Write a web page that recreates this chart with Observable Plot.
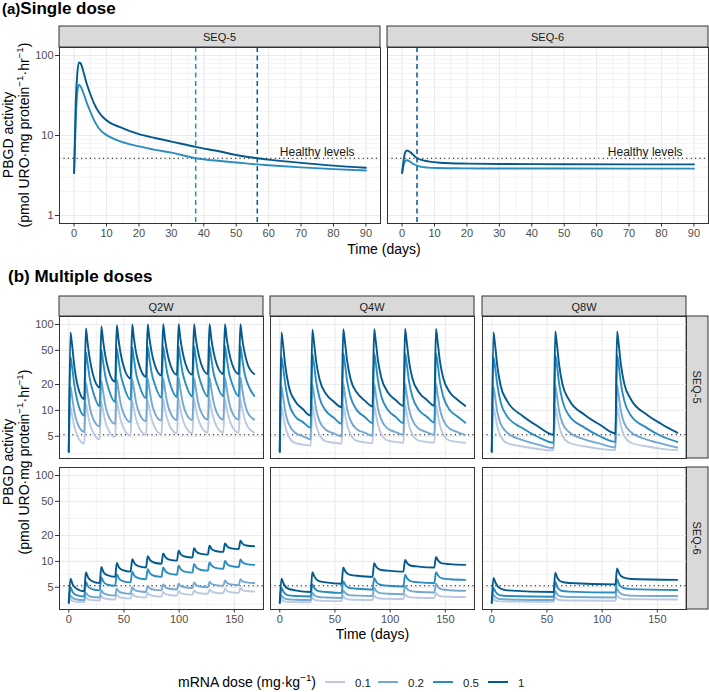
<!DOCTYPE html>
<html><head><meta charset="utf-8">
<script src="https://cdn.jsdelivr.net/npm/d3@7"></script>
<script src="https://cdn.jsdelivr.net/npm/@observablehq/plot@0.6"></script>
<style>
body{margin:0;background:#fff;}
#root{position:relative;width:709px;height:692px;overflow:hidden;background:#fff;}
</style></head><body><div id="root"></div><script>
// ---------- categories ----------
const doses = ["0.1", "0.2", "0.5", "1"];
const doseColors = ["#bdc9e1", "#74a9cf", "#2b8cbe", "#045a8d"];
const seqLabels = ["SEQ-5", "SEQ-6"];
const regimens = ["Q2W", "Q4W", "Q8W"];
const dosingInterval = [14, 28, 56];
const healthyLevel = 5.2;
const startLevel = 3.3;

// ---------- (a) single dose ----------
const sd5Time = [0, 0.5, 1, 1.5, 2, 3, 4, 5, 6, 7.5, 9, 11, 14, 17, 20, 25, 30, 37.5, 45, 50, 56.5, 60, 70, 80, 90];
const sd5Dose1 = [3.4, 25, 60, 82, 80, 60, 43, 33, 26, 20, 16.8, 14.5, 12.8, 11.4, 10.4, 9.3, 8.4, 7.2, 6.3, 5.7, 5.2, 5.0, 4.55, 4.2, 3.95];
const sd5Dose05 = [3.4, 15, 35, 43, 41, 33, 25, 20, 16, 12.5, 10.8, 9.6, 8.5, 7.8, 7.3, 6.6, 6.1, 5.2, 4.8, 4.6, 4.35, 4.25, 4.0, 3.8, 3.65];
const sd6Time = [0, 0.5, 1, 1.5, 2.5, 3.5, 4.6, 6, 8, 11, 15, 20, 30, 50, 70, 90];
const sd6Dose1 = [3.4, 5.0, 6.2, 6.5, 6.2, 5.7, 5.2, 4.95, 4.75, 4.6, 4.5, 4.45, 4.4, 4.38, 4.35, 4.35];
const sd6Dose05 = [3.4, 4.3, 4.8, 4.9, 4.7, 4.4, 4.2, 4.05, 3.97, 3.92, 3.9, 3.88, 3.87, 3.86, 3.85, 3.85];
const sd5Threshold = [37.5, 56.5];      // day the curve falls below the healthy level: dose 0.5, dose 1
const sd5ThresholdDose = ["0.5", "1"];
const sd6Threshold = [4.6];
const sd6ThresholdDose = ["1"];
const healthyLabel = "Healthy levels";
const healthyLabelDay = 86.5;

// ---------- (b) multiple doses: sampling days after each dose ----------
const offs5Q2W = [1.5, 3, 5, 8, 14];
const offs5Q4W = [1.5, 3, 5, 8, 14, 21, 28];
const offs5Q8W = [1.5, 3, 5, 8, 14, 28, 42, 56];
const offs6Q2W = [1.5, 3.5, 7, 14];
const offs6Q4W = [1.5, 3.5, 7, 14, 28];
const offs6Q8W = [1.5, 3.5, 7, 14, 56];

// SEQ-5, values per dosing cycle
const s5q2w_01 = [[11,8.8,6.5,5.0,4.1],[12,9.5,7.1,5.6,4.6],[12.5,10,7.5,5.9,4.9],[13,10.3,7.8,6.1,5.1],[13,10.4,7.9,6.2,5.2],[13,10.5,8.0,6.3,5.3],[13.5,10.6,8.1,6.4,5.4],[13.5,10.6,8.1,6.4,5.4],[13.5,10.7,8.2,6.5,5.5],[13.5,10.7,8.2,6.5,5.5],[13.5,10.7,8.2,6.5,5.5],[13.5,10.7,8.2,6.5,5.5]];
const s5q2w_02 = [[19,14.5,9.6,7.0,5.6],[21,16,11,8.0,6.5],[22,17,11.6,8.6,7.0],[23,17.5,12,9.0,7.3],[23,17.8,12.3,9.2,7.5],[23.5,18,12.5,9.3,7.6],[23.5,18,12.6,9.4,7.7],[24,18.2,12.7,9.4,7.7],[24,18.3,12.7,9.5,7.8],[24,18.3,12.8,9.5,7.8],[24,18.3,12.8,9.5,7.8],[24,18.3,12.8,9.5,7.8]];
const s5q2w_05 = [[42,32,20,12.5,8.7],[48,36,23.5,16.5,11.2],[51,38,25.5,18,12.5],[53,39.5,26.5,19,13.3],[54,40,27,19.5,13.8],[55,41,27.5,20,14],[55,41,28,20,14.3],[55,41,28,20.2,14.5],[56,41.5,28,20.3,14.5],[56,41.5,28,20.4,14.6],[56,41.5,28,20.4,14.6],[56,41.5,28,20.5,14.7]];
const s5q2w_1 = [[81,58,33,19.5,13.5],[90,62,40,26,18.5],[95,66,44,29.5,21.5],[98,68,46,31.5,23.5],[100,69,47,33,24.5],[100,70,48,33.5,25.5],[101,70,48.5,34,26],[101,70,48.5,34,26],[101,70,49,34.5,26.5],[101,70,49,34.5,26.5],[101,70,49,34.5,26.5],[101,70,49,34.5,26.5]];

const s5q4w_01 = [[11,8.8,6.5,5.0,4.15,4.0,3.9],[11.5,9.1,6.7,5.2,4.35,4.2,4.1],[11.5,9.2,6.8,5.3,4.4,4.25,4.15],[11.5,9.2,6.8,5.3,4.45,4.3,4.2],[11.5,9.2,6.8,5.3,4.45,4.3,4.2],[11.5,9.2,6.8,5.3,4.45,4.3,4.2]];
const s5q4w_02 = [[19,14.5,9.6,7.0,5.5,5.0,4.6],[20,15.3,10.2,7.5,5.9,5.4,5.0],[20.5,15.5,10.4,7.7,6.0,5.5,5.1],[20.5,15.5,10.5,7.8,6.1,5.6,5.2],[20.5,15.5,10.5,7.8,6.1,5.6,5.2],[20.5,15.5,10.5,7.8,6.1,5.6,5.2]];
const s5q4w_05 = [[42,32,20,12.5,8.5,7.3,6.3],[45,34.5,21.5,14,9.8,8.2,7.0],[46,35,22,14.5,10,8.4,7.1],[46,35,22,14.6,10.1,8.4,7.1],[46,35,22,14.6,10.1,8.5,7.2],[46,35,22,14.6,10.1,8.5,7.2]];
const s5q4w_1 = [[81,58,33,19.5,12.8,10.3,8.7],[87,62,37,23,15.5,12.6,10.9],[88,63,38,23.5,16,13,11.1],[88,63,38,24,16.2,13.2,11.3],[89,63,38,24,16.3,13.3,11.3],[89,63,38,24,16.3,13.3,11.3]];

const s5q8w_01 = [[11,8.8,6.5,5.0,4.15,3.8,3.55,3.42],[11,8.9,6.6,5.05,4.2,3.82,3.57,3.45],[11,8.9,6.6,5.05,4.2,3.82,3.57,3.45]];
const s5q8w_02 = [[19,14.5,9.6,7.0,5.5,4.5,4.0,3.65],[19.5,14.8,9.8,7.1,5.6,4.6,4.1,3.7],[19.5,14.8,9.8,7.1,5.6,4.6,4.1,3.7]];
const s5q8w_05 = [[42,32,20,12.5,8.5,6.2,4.9,4.2],[44,33.5,20.5,13,8.7,6.3,5.0,4.3],[44,33.5,20.5,13,8.7,6.3,5.0,4.3]];
const s5q8w_1 = [[81,58,33,19.5,12.8,8.6,6.5,5.2],[83,59,34,20.3,13.3,8.9,6.8,5.4],[83,59,34,20.5,13.5,9.0,6.9,5.5]];

// SEQ-6, values per dosing cycle
const s6q2w_01 = [[3.6,3.45,3.38,3.35],[3.8,3.62,3.54,3.5],[3.95,3.75,3.65,3.6],[4.1,3.87,3.76,3.7],[4.2,3.97,3.86,3.8],[4.3,4.07,3.96,3.9],[4.4,4.17,4.06,4.0],[4.5,4.27,4.16,4.1],[4.6,4.37,4.26,4.2],[4.7,4.45,4.32,4.25],[4.8,4.52,4.38,4.3],[4.9,4.65,4.52,4.45]];
const s6q2w_02 = [[4.0,3.75,3.6,3.55],[4.3,4.0,3.85,3.8],[4.6,4.25,4.1,4.0],[4.8,4.45,4.3,4.2],[5.0,4.65,4.5,4.4],[5.2,4.85,4.7,4.6],[5.4,5.0,4.8,4.7],[5.5,5.15,5.0,4.9],[5.7,5.3,5.1,5.0],[5.8,5.45,5.3,5.2],[6.0,5.6,5.4,5.3],[6.2,5.85,5.7,5.6]];
const s6q2w_05 = [[5.0,4.4,4.05,3.9],[5.8,5.1,4.75,4.6],[6.5,5.8,5.35,5.2],[7.1,6.3,5.9,5.7],[7.6,6.8,6.4,6.2],[8.1,7.3,6.8,6.6],[8.5,7.7,7.2,7.0],[8.9,8.1,7.6,7.4],[9.3,8.5,8.0,7.8],[9.7,8.9,8.4,8.2],[10.1,9.3,8.8,8.6],[10.5,9.7,9.3,9.1]];
const s6q2w_1 = [[6.3,5.4,4.8,4.5],[7.5,6.5,5.9,5.6],[8.6,7.5,6.9,6.6],[9.6,8.5,7.9,7.6],[10.6,9.5,8.8,8.5],[11.5,10.4,9.7,9.4],[12.4,11.2,10.5,10.2],[13.3,12.1,11.4,11.1],[14.2,13.0,12.3,12.0],[15.2,13.9,13.2,12.9],[16.2,14.9,14.2,13.9],[17.4,16.0,15.3,15.0]];

const s6q4w_01 = [[3.6,3.45,3.38,3.36,3.35],[3.75,3.57,3.5,3.47,3.45],[3.9,3.68,3.6,3.57,3.55],[4.0,3.78,3.7,3.67,3.65],[4.15,3.9,3.81,3.77,3.75],[4.3,4.02,3.92,3.88,3.85]];
const s6q4w_02 = [[4.0,3.75,3.62,3.58,3.55],[4.3,4.0,3.85,3.8,3.75],[4.6,4.25,4.05,4.0,3.95],[4.9,4.5,4.27,4.2,4.15],[5.2,4.75,4.5,4.4,4.35],[5.5,5.0,4.72,4.62,4.55]];
const s6q4w_05 = [[4.9,4.4,4.05,3.95,3.9],[5.4,4.85,4.5,4.4,4.3],[5.9,5.3,4.9,4.8,4.7],[6.4,5.75,5.35,5.2,5.1],[7.0,6.3,5.85,5.7,5.6],[7.5,6.8,6.35,6.2,6.1]];
const s6q4w_1 = [[6.3,5.5,4.85,4.6,4.4],[7.5,6.6,5.95,5.7,5.5],[8.5,7.6,7.0,6.8,6.6],[9.5,8.6,8.0,7.8,7.6],[10.4,9.5,8.9,8.7,8.5],[11.3,10.2,9.5,9.3,9.1]];

const s6q8w_01 = [[3.65,3.48,3.42,3.4,3.38],[3.85,3.62,3.53,3.5,3.48],[4.0,3.75,3.65,3.62,3.6]];
const s6q8w_02 = [[4.1,3.8,3.65,3.6,3.55],[4.5,4.1,3.9,3.85,3.8],[4.8,4.35,4.1,4.0,3.95]];
const s6q8w_05 = [[4.9,4.4,4.05,3.95,3.87],[5.8,5.0,4.55,4.45,4.35],[6.2,5.4,4.9,4.75,4.65]];
const s6q8w_1 = [[6.4,5.6,4.9,4.6,4.4],[7.4,6.4,5.8,5.6,5.4],[8.3,7.2,6.5,6.25,6.1]];

// ---------- axis ticks ----------
const topXTicks = [0, 10, 20, 30, 40, 50, 60, 70, 80, 90];
const topXMinor = [5, 15, 25, 35, 45, 55, 65, 75, 85];
const topYTicks = [1, 10, 100];
const topYMinor = [2, 3, 4, 5, 6, 7, 8, 9, 20, 30, 40, 50, 60, 70, 80, 90];
const botXTicks = [0, 50, 100, 150];
const botXMinor = [25, 75, 125, 175];
const botYTicks = [5, 10, 20, 50, 100];
const botYMinor = [3.16, 7.07, 14.14, 31.62, 70.71];

// ---------- build tables ----------
const FONT = '"Liberation Sans", Arial, Helvetica, sans-serif';
function single(time, vals, dose) { return time.map((t, i) => ({t, v: vals[i], dose})); }
function cyclesTable(arr, interval, offs, dose) {
  const pts = [{t: 0, v: startLevel, dose}];
  arr.forEach((c, k) => c.forEach((v, i) => pts.push({t: k * interval + offs[i], v, dose})));
  return pts;
}
const multi = {
  "SEQ-5": {
    Q2W: [s5q2w_01, s5q2w_02, s5q2w_05, s5q2w_1], Q4W: [s5q4w_01, s5q4w_02, s5q4w_05, s5q4w_1], Q8W: [s5q8w_01, s5q8w_02, s5q8w_05, s5q8w_1]
  },
  "SEQ-6": {
    Q2W: [s6q2w_01, s6q2w_02, s6q2w_05, s6q2w_1], Q4W: [s6q4w_01, s6q4w_02, s6q4w_05, s6q4w_1], Q8W: [s6q8w_01, s6q8w_02, s6q8w_05, s6q8w_1]
  }
};
const offsets = {"SEQ-5": [offs5Q2W, offs5Q4W, offs5Q8W], "SEQ-6": [offs6Q2W, offs6Q4W, offs6Q8W]};

const root = document.getElementById("root");

// ---------- overlay (titles, strips, legend) ----------
const ov = d3.select(root).append("svg").attr("width", 709).attr("height", 692)
  .style("position", "absolute").style("left", "0px").style("top", "0px")
  .attr("font-family", FONT);

function rich(sel, parts, size) {
  let up = false;
  parts.forEach(p => {
    const sup = typeof p !== "string";
    const s = sel.append("tspan").text(sup ? p.sup : p);
    if (sup) { s.attr("font-size", size * 0.7).attr("dy", -size * 0.4); up = true; }
    else if (up) { s.attr("dy", size * 0.4); up = false; }
  });
}
const ylabParts = ["(pmol URO·mg protein", {sup: "−1"}, "·hr", {sup: "−1"}, ")"];

// titles
const ta = ov.append("text").attr("x", 2).attr("y", 13.5).attr("font-weight", "bold").attr("fill", "#000");
ta.append("tspan").attr("font-size", 15).text("(a)");
ta.append("tspan").attr("font-size", 17).text("Single dose");
const tb = ov.append("text").attr("x", 8).attr("y", 282).attr("font-weight", "bold").attr("fill", "#000").attr("font-size", 17);
tb.text("(b) Multiple doses");

// strips
function strip(x, y, w, h, label, vertical) {
  ov.append("rect").attr("x", x).attr("y", y).attr("width", w).attr("height", h)
    .attr("fill", "#d9d9d9").attr("stroke", "#333333").attr("stroke-width", 1);
  const t = ov.append("text").attr("font-size", 11).attr("fill", "#1a1a1a")
    .attr("text-anchor", "middle").attr("dominant-baseline", "central").text(label);
  if (vertical) t.attr("transform", `translate(${x + w / 2},${y + h / 2}) rotate(90)`);
  else t.attr("x", x + w / 2).attr("y", y + h / 2 + 0.5);
}
strip(59, 26, 321, 21, seqLabels[0]);
strip(387, 26, 321, 21, seqLabels[1]);
const botLefts = [59, 270, 482];
const botTops = [316, 467];
regimens.forEach((r, i) => strip(botLefts[i], 296, 204, 20, r));
seqLabels.forEach((s, i) => strip(686, botTops[i], 22, 142, s, true));

// axis titles
function yTitle(cy) {
  ov.append("text").attr("font-size", 14).attr("fill", "#000").attr("text-anchor", "middle")
    .attr("transform", `translate(12.5,${cy}) rotate(-90)`).text("PBGD activity");
  const t = ov.append("text").attr("font-size", 14).attr("fill", "#000").attr("text-anchor", "middle")
    .attr("transform", `translate(28.5,${cy}) rotate(-90)`);
  rich(t, ylabParts, 14);
}
yTitle(135);
yTitle(462);
ov.append("text").attr("x", 384).attr("y", 254).attr("font-size", 14).attr("text-anchor", "middle").attr("fill", "#000").text("Time (days)");
ov.append("text").attr("x", 372.5).attr("y", 639).attr("font-size", 14).attr("text-anchor", "middle").attr("fill", "#000").text("Time (days)");

// legend
const lt = ov.append("text").attr("x", 178).attr("y", 687).attr("font-size", 14).attr("fill", "#000");
rich(lt, ["mRNA dose (mg·kg", {sup: "−1"}, ")"], 14);
const legX = [325, 378, 433, 488];
doses.forEach((d, i) => {
  ov.append("line").attr("x1", legX[i]).attr("x2", legX[i] + 20).attr("y1", 682).attr("y2", 682)
    .attr("stroke", doseColors[i]).attr("stroke-width", 2);
  ov.append("text").attr("x", legX[i] + 30).attr("y", 686.5).attr("font-size", 11.5).attr("fill", "#1a1a1a").text(d);
});

// ---------- panels ----------
function panel(o) {
  const mL = o.yAxis ? 40 : 0, mB = o.xAxis ? 24 : 0;
  const gridStyle = {stroke: "#ebebeb", strokeOpacity: 1};
  const marks = [
    Plot.gridX(o.xMinor, {...gridStyle, strokeWidth: 0.6}),
    Plot.gridY(o.yMinor, {...gridStyle, strokeWidth: 0.6}),
    Plot.gridX(o.xMajor, {...gridStyle, strokeWidth: 1.1}),
    Plot.gridY(o.yMajor, {...gridStyle, strokeWidth: 1.1}),
    ...o.marks,
    Plot.frame({stroke: "#333333", strokeWidth: 1})
  ];
  if (o.xAxis) marks.push(Plot.axisX(o.xMajor, {tickSize: 3.5, tickPadding: 2.5, tickFormat: d => String(d), fill: "#4d4d4d", stroke: "#333333", fontSize: 11, label: null}));
  if (o.yAxis) {
    // tick marks from the axis; labels as a text mark (avoids log-scale label thinning)
    marks.push(Plot.axisY(o.yMajor, {tickSize: 4, tickFormat: () => "", stroke: "#333333", label: null}));
    marks.push(Plot.text(o.yMajor, {y: d => d, text: d => String(d), frameAnchor: "left", textAnchor: "end", dx: -6, fill: "#4d4d4d", fontSize: 11}));
  }
  const xOpt = {domain: o.xDomain};
  const yOpt = {type: "log", domain: o.yDomain};
  if (!o.xAxis) xOpt.axis = null;
  if (!o.yAxis) yOpt.axis = null;
  const chart = Plot.plot({
    width: o.w + mL, height: o.h + mB,
    marginLeft: mL, marginRight: 0, marginTop: 0, marginBottom: mB,
    style: {fontFamily: FONT, fontSize: "11px", background: "transparent", overflow: "visible"},
    x: xOpt, y: yOpt,
    color: {domain: doses, range: doseColors},
    marks
  });
  chart.style.position = "absolute";
  chart.style.left = (o.left - mL) + "px";
  chart.style.top = o.top + "px";
  root.appendChild(chart);
}

const lineOpts = {x: "t", y: "v", z: "dose", stroke: "dose", strokeWidth: 1.9, curve: "monotone-x"};
const healthyRule = () => Plot.ruleY([healthyLevel], {stroke: "#000", strokeWidth: 1.1, strokeDasharray: "1.2,3.2"});

// (a) single dose panels
const topData = [
  [...single(sd5Time, sd5Dose05, "0.5"), ...single(sd5Time, sd5Dose1, "1")],
  [...single(sd6Time, sd6Dose05, "0.5"), ...single(sd6Time, sd6Dose1, "1")]
];
const topThr = [
  sd5Threshold.map((t, i) => ({t, dose: sd5ThresholdDose[i]})),
  sd6Threshold.map((t, i) => ({t, dose: sd6ThresholdDose[i]}))
];
[59, 387].forEach((left, i) => {
  panel({
    left, top: 47, w: 321, h: 176,
    xDomain: [-4.5, 94.5], yDomain: [Math.pow(10, -0.1), Math.pow(10, 2.1)],
    xMajor: topXTicks, xMinor: topXMinor, yMajor: topYTicks, yMinor: topYMinor,
    xAxis: true, yAxis: i === 0,
    marks: [
      Plot.ruleX(topThr[i], {x: "t", stroke: "dose", strokeWidth: 1.5, strokeDasharray: "5,3.5"}),
      healthyRule(),
      Plot.text([{t: healthyLabelDay, v: healthyLevel, label: healthyLabel}], {x: "t", y: "v", text: "label", textAnchor: "end", dy: -6.5, fontSize: 12, fill: "#1a1a1a"}),
      Plot.line(topData[i], lineOpts)
    ]
  });
});

// (b) multiple doses panels
seqLabels.forEach((seq, row) => {
  regimens.forEach((reg, col) => {
    const data = [];
    multi[seq][reg].forEach((arr, di) => data.push(...cyclesTable(arr, dosingInterval[col], offsets[seq][col], doses[di])));
    panel({
      left: botLefts[col], top: botTops[row], w: 204, h: 142,
      xDomain: [-8.4, 176.4], yDomain: [Math.pow(10, 0.44), Math.pow(10, 2.093)],
      xMajor: botXTicks, xMinor: botXMinor, yMajor: botYTicks, yMinor: botYMinor,
      xAxis: row === 1, yAxis: col === 0,
      marks: [healthyRule(), Plot.line(data, lineOpts)]
    });
  });
});
</script></body></html>
